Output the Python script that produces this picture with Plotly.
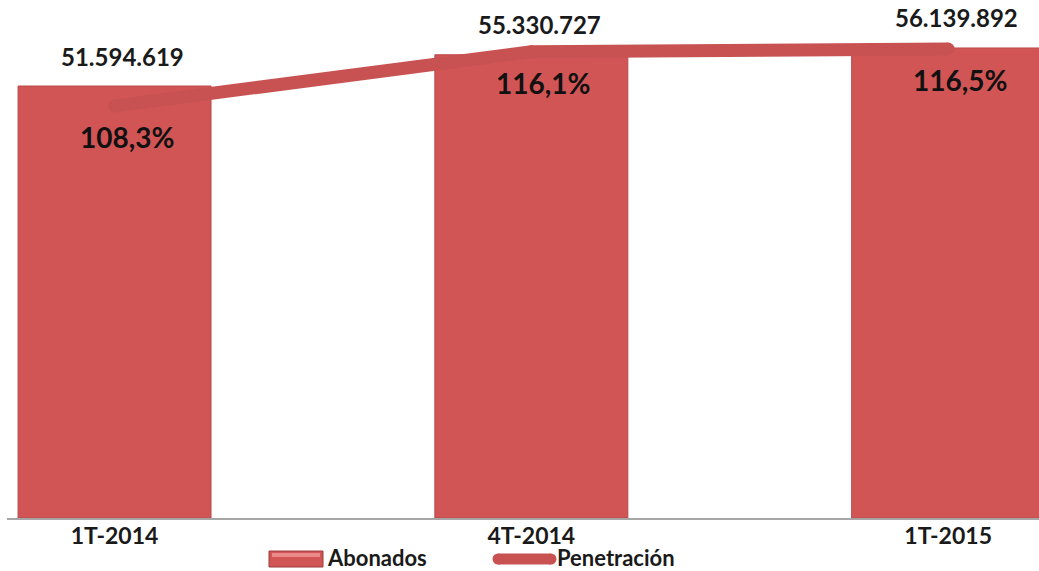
import plotly.graph_objects as go

# Subscribers (Abonados) and penetration per quarter
periodos = ["1T-2014", "4T-2014", "1T-2015"]
abonados = [51594619, 55330727, 56139892]
penetracion = [108.3, 116.1, 116.5]

BAR_COLOR = "#d25555"
LINE_COLOR = "#c85252"
FONT = "Lato"

W, H = 1039, 571
ML, MR, MT, MB = 7, 0, 0, 53
PW, PH = W - ML - MR, H - MT - MB


def px_x(px):
    return (px - ML) / PW


def px_y(py):
    return (H - MB - py) / PH


def fmt_miles(v):
    return f"{v:,}".replace(",", ".")


def fmt_pct(p):
    return f"{p:.1f}".replace(".", ",") + "%"


xs = list(range(len(periodos)))

fig = go.Figure()

fig.add_trace(go.Bar(
    x=xs, y=abonados, name="Abonados", width=0.463,
    marker=dict(color=BAR_COLOR, line=dict(color="#b94a4a", width=1)),
    showlegend=False, hoverinfo="skip",
))

fig.add_trace(go.Scatter(
    x=xs, y=penetracion, name="Penetración", yaxis="y2",
    mode="lines+markers",
    line=dict(color=LINE_COLOR, width=13),
    marker=dict(color=LINE_COLOR, size=13),
    showlegend=False, hoverinfo="skip",
))

annotations = []
for x, v in zip(xs, abonados):
    annotations.append(dict(
        x=x, y=v, xref="x", yref="y", text=f"<b>{fmt_miles(v)}</b>",
        showarrow=False, yshift=30, xshift=8,
        font=dict(family=FONT, size=24, color="#1a1a1a"),
    ))
for x, p in zip(xs, penetracion):
    annotations.append(dict(
        x=x, y=p, xref="x", yref="y2", text=f"<b>{fmt_pct(p)}</b>",
        showarrow=False, yshift=-31, xshift=12,
        font=dict(family=FONT, size=28, color="#111111"),
    ))

# Legend drawn below the axis
shapes = []
leg_y = 557
shapes.append(dict(
    type="rect", xref="paper", yref="paper",
    x0=px_x(269), x1=px_x(323), y0=px_y(567), y1=px_y(551),
    fillcolor=BAR_COLOR, line=dict(color="#9e3c3c", width=1), layer="above",
))
shapes.append(dict(
    type="rect", xref="paper", yref="paper",
    x0=px_x(272), x1=px_x(320), y0=px_y(557), y1=px_y(553),
    fillcolor="#ec8a8a", line=dict(width=0), layer="above",
))
shapes.append(dict(
    type="line", xref="paper", yref="paper",
    x0=px_x(498), x1=px_x(551), y0=px_y(leg_y + 2), y1=px_y(leg_y + 2),
    line=dict(color=LINE_COLOR, width=11), layer="above",
))
for cx in (498, 551):
    shapes.append(dict(
        type="circle", xref="paper", yref="paper",
        x0=px_x(cx - 5.5), x1=px_x(cx + 5.5),
        y0=px_y(leg_y + 7.5), y1=px_y(leg_y - 3.5),
        fillcolor=LINE_COLOR, line=dict(width=0), layer="above",
    ))
annotations.append(dict(
    x=px_x(326), y=px_y(leg_y), xref="paper", yref="paper",
    text="<b>Abonados</b>", showarrow=False, xanchor="left", yanchor="middle",
    borderpad=0, font=dict(family=FONT, size=22, color="#1a1a1a"),
))
annotations.append(dict(
    x=px_x(556), y=px_y(leg_y), xref="paper", yref="paper",
    text="<b>Penetración</b>", showarrow=False, xanchor="left", yanchor="middle",
    borderpad=0, font=dict(family=FONT, size=22, color="#1a1a1a"),
))

fig.update_layout(
    width=W, height=H,
    margin=dict(l=ML, r=MR, t=MT, b=MB),
    paper_bgcolor="white", plot_bgcolor="white",
    showlegend=False,
    xaxis=dict(
        range=[-0.258, 2.218], tickmode="array", tickvals=xs,
        ticktext=[f"<b>{p}</b>" for p in periodos],
        showline=True, linecolor="#a6a6a6", linewidth=2,
        showgrid=False, zeroline=False, ticks="", ticklabelstandoff=-4,
        tickfont=dict(family=FONT, size=23, color="#1a1a1a"),
    ),
    yaxis=dict(range=[0, 61.87e6], visible=False, showgrid=False),
    yaxis2=dict(range=[49.0, 123.55], overlaying="y", side="right",
                visible=False, showgrid=False),
    annotations=annotations,
    shapes=shapes,
)

fig.write_html("out.html")
